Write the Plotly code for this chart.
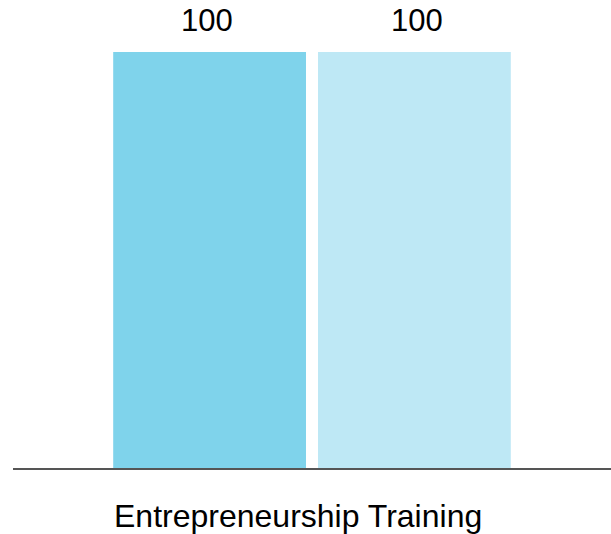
import plotly.graph_objects as go

categories = ["Entrepreneurship Training"]
series_a = [100]
series_b = [100]
colors = ["#7fd3eb", "#bee8f5"]

fig = go.Figure()
for vals, col in zip([series_a, series_b], colors):
    fig.add_trace(go.Bar(
        x=categories, y=vals, marker=dict(color=col, line=dict(width=0)),
        cliponaxis=False, hoverinfo="skip",
    ))

# value labels above each bar
for vals, shift in zip([series_a, series_b], [-105, 105]):
    for c, v in zip(categories, vals):
        fig.add_annotation(x=c, y=v, xref="x", yref="y", text=str(v),
                           showarrow=False, yanchor="bottom", xshift=shift, yshift=12,
                           font=dict(size=31, color="#000000"))

# category label
for c in categories:
    fig.add_annotation(x=c, y=0, xref="x", yref="y", text=c, showarrow=False,
                       yanchor="top", xshift=-14, yshift=-28,
                       font=dict(size=32, color="#000000"))

fig.update_layout(
    width=611, height=534,
    margin=dict(l=13, r=0, t=52, b=66),
    paper_bgcolor="white", plot_bgcolor="white",
    showlegend=False, barmode="group", bargap=0.315, bargroupgap=0.0587,
    font=dict(family="Liberation Sans, Arial, sans-serif", size=30, color="#000000"),
)
fig.update_xaxes(showline=True, linecolor="#555555", linewidth=2, ticks="",
                 showticklabels=False, automargin=False, showgrid=False)
fig.update_yaxes(range=[0, 100], visible=False, showgrid=False, automargin=False)
fig.write_html("out.html", config={"displayModeBar": False},
               post_script="document.body.style.margin='0';document.body.style.overflow='hidden';")
